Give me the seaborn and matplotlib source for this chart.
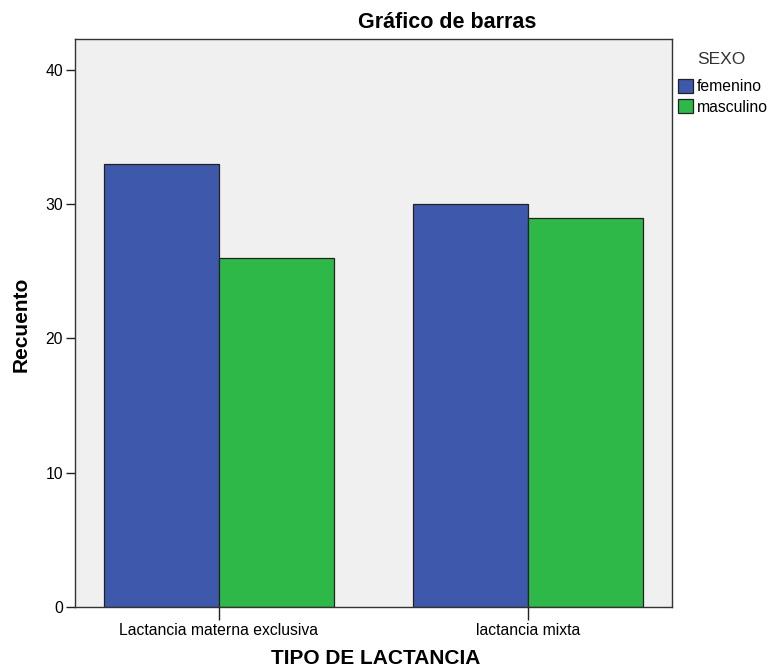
"""Bar chart of lactation type by sex (SPSS-style counts)."""

import matplotlib

matplotlib.use("Agg")
import matplotlib.pyplot as plt
import pandas as pd
import seaborn as sns
from matplotlib.patches import Patch

CATEGORIES = ["Lactancia materna exclusiva", "lactancia mixta"]
SEXES = ["femenino", "masculino"]
FEMENINO = [33, 30]
MASCULINO = [26, 29]
COLORS = {"femenino": "#3E58AC", "masculino": "#2EB848"}

df = pd.DataFrame(
    {
        "tipo": CATEGORIES * 2,
        "sexo": [SEXES[0]] * len(CATEGORIES) + [SEXES[1]] * len(CATEGORIES),
        "recuento": FEMENINO + MASCULINO,
    }
)

sns.set_style("ticks")
plt.rcParams["font.family"] = ["Liberation Sans", "DejaVu Sans"]
for key in ["text.color", "axes.labelcolor", "xtick.color", "ytick.color"]:
    plt.rcParams[key] = "black"

fig = plt.figure(figsize=(7.69, 6.70), dpi=100)
ax = fig.add_axes([75 / 769, 63 / 670, 597 / 769, 568 / 670])
ax.set_facecolor("#F0F0F0")

sns.barplot(
    data=df,
    x="tipo",
    y="recuento",
    hue="sexo",
    order=CATEGORIES,
    hue_order=SEXES,
    palette=COLORS,
    width=0.745,
    edgecolor="#222222",
    linewidth=0.9,
    saturation=1,
    legend=False,
    ax=ax,
)

ax.set_xlim(-0.466, 1.466)
ax.set_ylim(0, 42.3)
ax.set_yticks([0, 10, 20, 30, 40])
ax.tick_params(axis="both", direction="out", width=1, labelsize=11.3, color="#222222")
ax.tick_params(axis="y", length=6.5, pad=2)
ax.tick_params(axis="x", length=9.5, pad=2)
for side in ["left", "bottom", "top", "right"]:
    ax.spines[side].set_color("#333333")
    ax.spines[side].set_linewidth(1)
ax.set_xlabel("")
ax.set_ylabel("")

fig.text(447 / 769, 1 - 23 / 670, "Gráfico de barras", ha="center", va="center",
         fontsize=15.5, fontweight="bold")
fig.text(376 / 769, 1 - 659 / 670, "TIPO DE LACTANCIA", ha="center", va="center",
         fontsize=15, fontweight="bold")
fig.text(21 / 769, 1 - 324 / 670, "Recuento", ha="center", va="center",
         rotation=90, fontsize=15, fontweight="bold")

# legend title drawn separately so the gap to the entries matches the original
fig.text(721 / 769, 1 - 59 / 670, "SEXO", ha="center", va="center",
         fontsize=12.5, color="#333333")
handles = [Patch(facecolor=COLORS[s], edgecolor="#222222", linewidth=0.9) for s in SEXES]
fig.legend(
    handles,
    SEXES,
    loc="upper left",
    bbox_to_anchor=(678 / 769, 1 - 79 / 670),
    frameon=False,
    fontsize=11.3,
    handlelength=0.95,
    handleheight=1.0,
    handletextpad=0.25,
    labelspacing=0.3,
    borderpad=0,
    borderaxespad=0,
)

fig.savefig("out.png", dpi=100)
